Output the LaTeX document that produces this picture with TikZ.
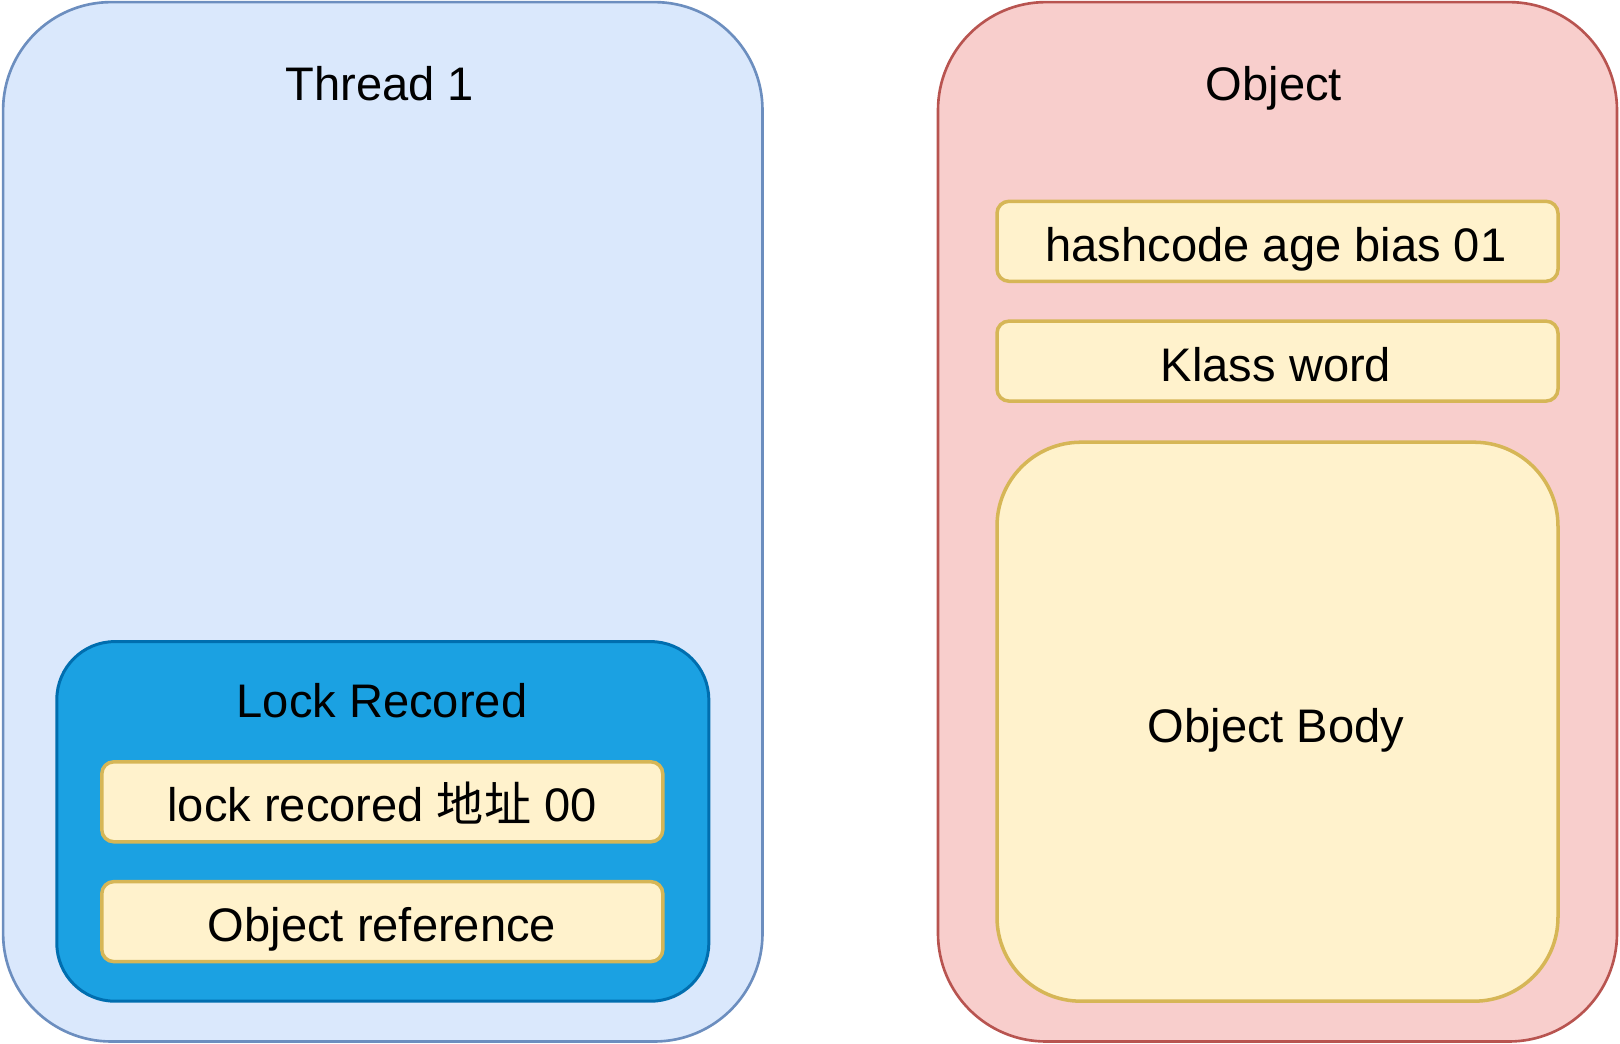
\documentclass[tikz,border=0pt]{standalone}
\usepackage{fontspec}
\setmainfont{Liberation Sans}
\newfontfamily\cjk{Noto Sans CJK SC}
\definecolor{blueFill}{HTML}{DAE8FC}
\definecolor{blueLine}{HTML}{6C8EBF}
\definecolor{redFill}{HTML}{F8CECC}
\definecolor{redLine}{HTML}{B85450}
\definecolor{yelFill}{HTML}{FFF2CC}
\definecolor{yelLine}{HTML}{D6B656}
\definecolor{lockFill}{HTML}{1BA1E2}
\definecolor{lockLine}{HTML}{006EAF}
\begin{document}
\begin{tikzpicture}[x=0.1mm,y=-0.1mm,
  every node/.style={font=\fontsize{13.4pt}{16pt}\selectfont, inner sep=0pt, outer sep=0pt},
  box/.style={draw, rectangle, line width=0.7pt},
  bigbox/.style={box, line width=0.75pt, rounded corners=10.8mm},
  yelbox/.style={box, fill=yelFill, draw=yelLine, line width=1.0pt, rounded corners=1.2mm, minimum width=56.1mm, minimum height=8.0mm},
  lbl/.style={anchor=base}]
\useasboundingbox (0,0) rectangle (1620,1044);
% Thread 1
\node[bigbox, fill=blueFill, draw=blueLine, minimum width=75.94mm, minimum height=103.94mm] (thread) at (382.8,521.8) {};
\node[lbl] (threadT) at (380,100) {Thread 1};
\node[box, fill=lockFill, draw=lockLine, line width=0.85pt, rounded corners=5.8mm, minimum width=65.2mm, minimum height=35.96mm] (lock) at (382.8,821.4) {};
\node[lbl] (lockT) at (382,717) {Lock Recored};
\node[yelbox] (lockrec) at (382.3,801.8) {};
\node[lbl] (lockrecT) at (382,821) {lock recored {\cjk 地址} 00};
\node[yelbox] (objref) at (382.3,921.6) {};
\node[lbl] (objrefT) at (382,941) {Object reference};
% Object
\node[bigbox, fill=redFill, draw=redLine, minimum width=67.9mm, minimum height=103.94mm] (obj) at (1277.5,521.8) {};
\node[lbl] (objT) at (1274,100) {Object};
\node[yelbox] (hash) at (1277.5,241.3) {};
\node[lbl] (hashT) at (1276,261.4) {hashcode age bias 01};
\node[yelbox] (klass) at (1277.5,361.1) {};
\node[lbl] (klassT) at (1276,381) {Klass word};
\node[yelbox, rounded corners=8.4mm, minimum height=55.9mm] (body) at (1277.5,721.7) {};
\node[lbl] (bodyT) at (1276,742) {Object Body};
\end{tikzpicture}
\end{document}
